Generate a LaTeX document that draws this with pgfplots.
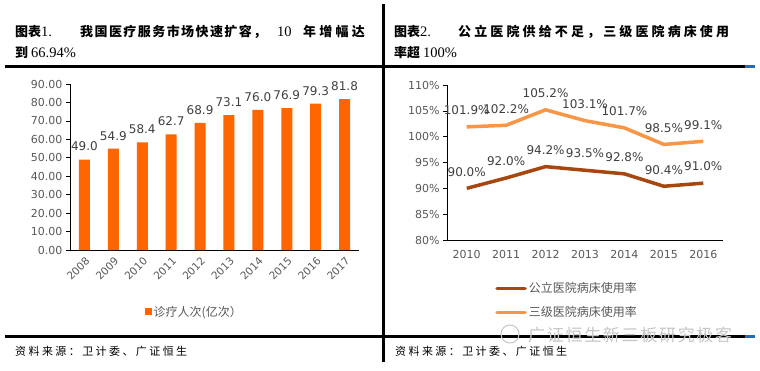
\documentclass[border=0pt]{standalone}
\usepackage{pgfplots}
\pgfplotsset{compat=1.18}
\usepackage{fontspec}
\setmainfont{DejaVu Sans}
\newfontfamily\cjk{Noto Sans CJK SC}
\newfontfamily\tnr{Liberation Serif}
\definecolor{barorange}{HTML}{FF6600}
\definecolor{darkline}{HTML}{A5470F}
\definecolor{lightline}{HTML}{F79646}
\definecolor{ticklab}{HTML}{595959}
\definecolor{datalab}{HTML}{404040}
\definecolor{edgeblue}{HTML}{1F6EB4}
\pgfplotsset{
  common/.style={
    scale only axis,
    axis lines*=left,
    axis line style={black, line width=0.6pt},
    tick align=outside,
    tick style={black, line width=0.6pt},
    major tick length=4pt,
    minor tick length=4pt,
    x tick style={draw=none},
    minor x tick style={black, line width=0.6pt},
    ticklabel style={font=\fontsize{11}{11}\selectfont, text=ticklab},
    /pgf/number format/assume math mode=true,
    clip=false,
  }
}
\begin{document}
\begin{tikzpicture}[x=1pt,y=-1pt]
\path[use as bounding box, fill=white] (0,0) rectangle (760,371);
% frame lines
\draw[line width=3pt] (5,67) -- (745,67);
\draw[line width=3pt, edgeblue] (745,67) -- (755,67);
\draw[line width=3pt] (5,336.5) -- (745,336.5);
\draw[line width=3pt, edgeblue] (745,336.5) -- (755,336.5);
\draw[line width=2.5pt] (383.5,4) -- (383.5,362);
% titles
\begingroup
\fontsize{13}{13}\selectfont\bfseries
\node[anchor=base west, inner sep=0] at (15,37) {\cjk 图表\tnr\mdseries\fontsize{14.5}{14}\selectfont 1.};
\node[anchor=base west, inner sep=0] at (80,37) {\cjk\addfontfeatures{LetterSpace=11}我国医疗服务市场快速扩容，};
\node[anchor=base west, inner sep=0] at (277,37) {\tnr\mdseries\fontsize{14.5}{14}\selectfont 10};
\node[anchor=base west, inner sep=0] at (303,37) {\cjk\addfontfeatures{LetterSpace=25}年增幅达};
\node[anchor=base west, inner sep=0] at (15,58) {\cjk 到 \tnr\mdseries\fontsize{14.5}{14}\selectfont 66.94\%};
\node[anchor=base west, inner sep=0] at (394,37) {\cjk 图表\tnr\mdseries\fontsize{14.5}{14}\selectfont 2.};
\node[anchor=base west, inner sep=0] at (458,37) {\cjk\addfontfeatures{LetterSpace=24}公立医院供给不足，三级医院病床使用};
\node[anchor=base west, inner sep=0] at (394,58) {\cjk 率超 \tnr\mdseries\fontsize{14.5}{14}\selectfont 100\%};
\endgroup
% footers
\node[anchor=base west, inner sep=0] at (15,355) {\fontsize{11}{11}\selectfont\cjk\addfontfeatures{LetterSpace=22}资料来源：卫计委、广证恒生};
\node[anchor=base west, inner sep=0] at (395,355) {\fontsize{11}{11}\selectfont\cjk\addfontfeatures{LetterSpace=22}资料来源：卫计委、广证恒生};
% watermark
\node[anchor=west, inner sep=0, text=gray!45] at (528,335) {\fontsize{17}{17}\selectfont\cjk\addfontfeatures{LetterSpace=10}广证恒生新三板研究极客};
\draw[gray!45, line width=1pt] (510,334) circle (9pt);

% left chart
\begin{axis}[common,
  at={(70pt,-250pt)}, anchor=south west,
  width=289pt, height=166pt,
  xmin=-0.5, xmax=9.5, ymin=0, ymax=90,
  ytick={0,10,...,90},
  yticklabel={\pgfmathprintnumber[fixed,fixed zerofill,precision=2]{\tick}},
  xtick={0,...,9},
  xticklabels={2008,2009,2010,2011,2012,2013,2014,2015,2016,2017},
  xticklabel style={rotate=45, anchor=east, yshift=-6pt, xshift=2pt, font=\fontsize{10.5}{10.5}\selectfont},
  minor xtick={-0.5,0.5,...,9.5},
  ybar, bar width=11pt,
  nodes near coords={\pgfmathprintnumber[fixed,fixed zerofill,precision=1]{\pgfplotspointmeta}},
  every node near coord/.append style={font=\fontsize{12}{12}\selectfont, text=datalab, yshift=5pt},
  legend style={at={(0.43,-0.373)}, anchor=center, draw=none, fill=none,
    font=\fontsize{12}{12}\selectfont\cjk, text=ticklab, inner sep=0pt},
  legend image code/.code={\fill[barorange] (0pt,-3.5pt) rectangle (7pt,3.5pt);},
]
\addplot[fill=barorange, draw=none] coordinates {
(0,49.0) (1,54.9) (2,58.4) (3,62.7) (4,68.9) (5,73.1) (6,76.0) (7,76.9) (8,79.3) (9,81.8)};
\addlegendentry{诊疗人次(亿次）}
\end{axis}

% right chart
\begin{axis}[common,
  at={(447pt,-240pt)}, anchor=south west,
  width=276pt, height=155pt,
  xmin=-0.5, xmax=6.5, ymin=80, ymax=110,
  ytick={80,85,...,110},
  yticklabel={\pgfmathprintnumber{\tick}\%},
  xtick={0,...,6},
  xticklabels={2010,2011,2012,2013,2014,2015,2016},
  xticklabel style={yshift=-3pt},
  minor xtick={-0.5,0.5,...,6.5},
  nodes near coords={\pgfmathprintnumber[fixed,fixed zerofill,precision=1]{\pgfplotspointmeta}\%},
  every node near coord/.append style={font=\fontsize{12}{12}\selectfont, text=datalab, yshift=7pt},
  legend style={at={(0.435,-0.39)}, anchor=center, draw=none, fill=none,
    font=\fontsize{12}{12}\selectfont\cjk, text=ticklab, row sep=8pt, inner sep=0pt},
  legend cell align=left,
  legend image code/.code={\draw[#1, line cap=round] (0pt,0pt) -- (28pt,0pt);},
]
\addplot[darkline, line width=3.5pt, no marks] coordinates {
(0,90.0) (1,92.0) (2,94.2) (3,93.5) (4,92.8) (5,90.4) (6,91.0)};
\addlegendentry{公立医院病床使用率}
\addplot[lightline, line width=3.5pt, no marks] coordinates {
(0,101.9) (1,102.2) (2,105.2) (3,103.1) (4,101.7) (5,98.5) (6,99.1)};
\addlegendentry{三级医院病床使用率}
\end{axis}
\end{tikzpicture}
\end{document}
